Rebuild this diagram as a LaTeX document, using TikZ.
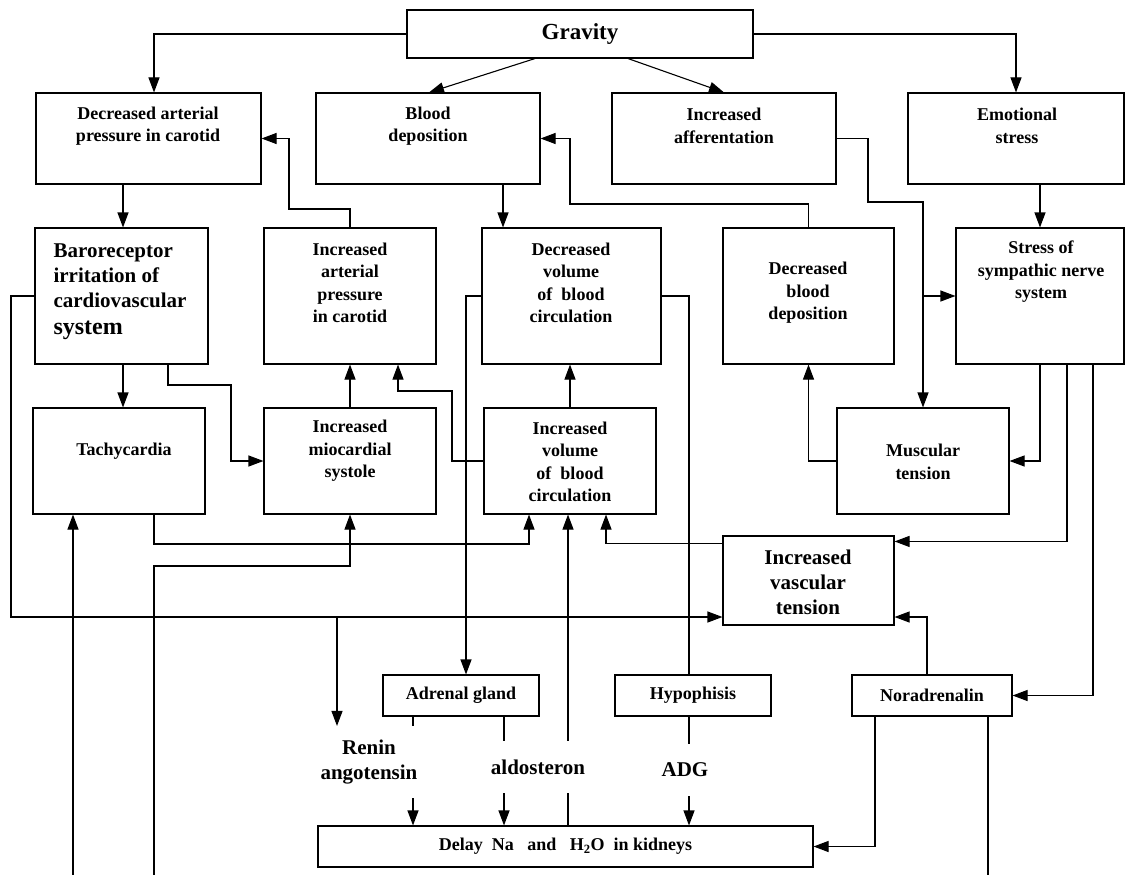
\documentclass[tikz,border=0pt]{standalone}
\usepackage{fontspec}
\setmainfont{Liberation Serif}
\usetikzlibrary{arrows.meta}
\begin{document}
\begin{tikzpicture}[x=1pt,y=-1pt,
  line width=1.1pt,
  box/.style={draw, rectangle, inner sep=0pt, font=\fontsize{18}{22}\selectfont\bfseries},
  lbl/.style={inner sep=0pt, align=center, font=\fontsize{18}{22.5}\selectfont\bfseries},
  big/.style={inner sep=0pt, align=center, font=\fontsize{21}{25}\selectfont\bfseries},
  arr/.style={-{Triangle[length=15pt,width=11pt]}},
]
\fill[white] (0,0) rectangle (1125,875);
\useasboundingbox (0,0) rectangle (1125,875);

% ---- boxes ----
\node[box, minimum width=346pt, minimum height=48pt, font=\fontsize{23}{27}\selectfont\bfseries] (grav) at (580,34) {Gravity};

\node[box, minimum width=225pt, minimum height=91pt] (da) at (148.5,138.5) {};
\node[box, minimum width=224pt, minimum height=91pt] (bd) at (428,138.5) {};
\node[box, minimum width=224pt, minimum height=91pt] (ia) at (724,138.5) {};
\node[box, minimum width=216pt, minimum height=91pt] (es) at (1016,138.5) {};

\node[box, minimum width=173pt, minimum height=136pt] (br) at (121.5,296) {};
\node[box, minimum width=172pt, minimum height=136pt] (iap) at (350,296) {};
\node[box, minimum width=179pt, minimum height=136pt] (dv) at (571.5,296) {};
\node[box, minimum width=171pt, minimum height=136pt] (dbd) at (808.5,296) {};
\node[box, minimum width=168pt, minimum height=136pt] (ss) at (1040,296) {};

\node[box, minimum width=172pt, minimum height=106pt] (t) at (119,461) {};
\node[box, minimum width=172pt, minimum height=106pt] (ims) at (350,461) {};
\node[box, minimum width=172pt, minimum height=106pt] (ivol) at (570,461) {};
\node[box, minimum width=172pt, minimum height=106pt] (mt) at (923,461) {};

\node[box, minimum width=171pt, minimum height=89pt] (ivt) at (808.5,580.5) {};

\node[box, minimum width=156pt, minimum height=41pt] (adr) at (461,695.5) {Adrenal gland};
\node[box, minimum width=156pt, minimum height=41pt] (hyp) at (693,695.5) {Hypophisis};
\node[box, minimum width=160pt, minimum height=41pt] (nor) at (932,695.5) {Noradrenalin};
\node[box, minimum width=495pt, minimum height=41pt] (delay) at (565.5,846.5)
  {Delay\ \ Na\ \ \ and\ \ \ H\textsubscript{2}O\ \ in kidneys};

% ---- box texts ----
\node[lbl] (da-t) at (148,126) {Decreased arterial\\pressure in carotid};
\node[lbl] (bd-t) at (428,126) {Blood\\deposition};
\node[lbl] (ia-t) at (724,126) {Increased\\afferentation};
\node[lbl] (es-t) at (1017,126) {Emotional\\stress};
\node[inner sep=0pt, align=left, anchor=west, font=\fontsize{21}{25}\selectfont\bfseries] (br-t) at (53,292)
  {Baroreceptor\\irritation of\\cardiovascular\\[2pt]{\fontsize{24}{28}\selectfont system}};
\node[lbl] (iap-t) at (350,283) {Increased\\arterial\\pressure\\in carotid};
\node[lbl] (dv-t) at (571,283) {Decreased\\volume\\of\ \ blood\\circulation};
\node[lbl] (dbd-t) at (808,293) {Decreased\\blood\\deposition};
\node[lbl] (ss-t) at (1041,272) {Stress of\\sympathic nerve\\system};
\node[lbl] (t-t) at (124,451) {Tachycardia};
\node[lbl] (ims-t) at (350,451) {Increased\\miocardial\\systole};
\node[lbl] (ivol-t) at (570,462) {Increased\\volume\\of\ \ blood\\circulation};
\node[lbl] (mt-t) at (923,462) {Muscular\\tension};
\node[big] (ivt-t) at (808,582) {Increased\\vascular\\tension};

% ---- free labels ----
\node[big, minimum height=71pt] (renin) at (369,762) {Renin\\angotensin};
\node[big, minimum height=51pt] (aldo) at (538,767) {aldosteron};
\node[big, minimum height=51pt] (adg) at (685,770) {ADG};

% ---- connectors ----
\draw[arr] (grav.west) -| (da.north -| 154,0);
\draw[arr] (grav.south -| 535,0) -- (bd.north -| 429,0);
\draw[arr] (grav.south -| 628,0) -- (ia.north);
\draw[arr] (grav.east) -| (es.north);

\draw[arr] (da.south -| 123,0) -- (br.north -| 123,0);
\draw[arr] (bd.south -| 503,0) -- (dv.north -| 503,0);
\draw[arr] (es.south -| 1040,0) -- (ss.north);
\draw[arr] (iap.north) |- (289,209) |- (da.east);
\draw[arr] (dbd.north) |- (570,204) |- (bd.east);
\draw[arr] (ia.east) -| (868,202) -| (mt.north);
\draw[arr] (mt.north |- ss.west) -- (ss.west);

\draw[arr] (br.south -| 123,0) -- (t.north -| 123,0);
\draw[arr] (br.south -| 168,0) |- (231,385) |- (ims.west);
\draw[arr] (ims.north) -- (iap.south);
\draw[arr] (ivol.west) -| (452,391) -| (iap.south -| 398,0);
\draw[arr] (ivol.north) -- (ivol.north |- dv.south);
\draw[arr] (dv.west) -| (adr.north -| 466,0);
\draw (dv.east) -| (hyp.north -| 689,0);
\draw[arr] (mt.west) -| (dbd.south);
\draw[arr] (ss.south -| 1040,0) |- (mt.east);
\draw[arr] (ss.south -| 1067,0) |- ([yshift=-6pt]ivt.north east);
\draw[arr] (ss.south -| 1093,0) |- (nor.east);
\draw[arr] (br.west) -| (11,617) -- (ivt.west |- 0,617);

\coordinate (rj) at (337,617);
\draw[arr] (rj) -- (renin.north -| rj);
\coordinate (b1) at (73,875);
\draw[arr] (b1) -- (t.south -| b1);
\draw[arr] (t.south -| 154,0) |- (529,544) -- (ivol.south -| 529,0);
\coordinate (b2) at (154,875);
\draw[arr] (b2) |- (ims.south |- 0,566) -- (ims.south);
\draw[arr] ([yshift=-8pt]ivt.north west) -| (ivol.south -| 606,0);

\draw (delay.north -| 568,0) -- (aldo.south -| 568,0);
\draw[arr] (aldo.north -| 568,0) -- (ivol.south -| 568,0);
\draw (adr.south -| 504,0) -- (aldo.north -| 504,0);
\draw[arr] (aldo.south -| 504,0) -- (delay.north -| 504,0);
\draw (adr.south -| 413,0) -- (renin.north -| 413,0);
\draw[arr] (renin.south -| 413,0) -- (delay.north -| 413,0);
\draw (hyp.south -| 689,0) -- (adg.north -| 689,0);
\draw[arr] (adg.south -| 689,0) -- (delay.north -| 689,0);
\draw[arr] (nor.south -| 875,0) |- (delay.east);
\coordinate (b3) at (988,875);
\draw (nor.south -| b3) -- (b3);
\draw[arr] (nor.north -| 927,0) |- (ivt.east |- 0,617);
\end{tikzpicture}
\end{document}
